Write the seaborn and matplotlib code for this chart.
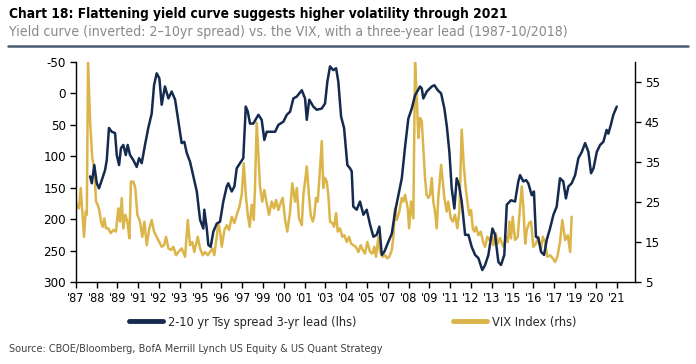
import numpy as np
import pandas as pd
import seaborn as sns
import matplotlib.pyplot as plt

# 2-10yr spread (bp), shifted forward 3 years, plotted on inverted lhs
spread_year = [1987.92, 1988.03, 1988.19, 1988.35, 1988.49, 1988.67, 1988.88, 1988.99,
               1989.13, 1989.31, 1989.52, 1989.63, 1989.78, 1989.90, 1990.05, 1990.21,
               1990.33, 1990.48, 1990.69, 1990.91, 1991.06, 1991.23, 1991.44, 1991.65,
               1991.87, 1992.02, 1992.19, 1992.36, 1992.51, 1992.72, 1992.94, 1993.15,
               1993.37, 1993.58, 1993.79, 1993.96, 1994.12, 1994.33, 1994.54, 1994.76,
               1994.97, 1995.18, 1995.24, 1995.40, 1995.50, 1995.65, 1995.82, 1996.04,
               1996.25, 1996.46, 1996.68, 1996.78, 1997.00, 1997.17, 1997.32, 1997.53,
               1997.74, 1997.90, 1998.03, 1998.17, 1998.38, 1998.71, 1998.92, 1999.09,
               1999.24, 1999.56, 1999.78, 1999.99, 2000.31, 2000.53, 2000.74, 2000.95,
               2001.17, 2001.49, 2001.70, 2001.81, 2001.97, 2002.23, 2002.45, 2002.77,
               2002.98, 2003.13, 2003.30, 2003.51, 2003.69, 2003.83, 2004.01, 2004.20,
               2004.41, 2004.58, 2004.69, 2004.79, 2005.01, 2005.22, 2005.44, 2005.65,
               2005.87, 2006.08, 2006.29, 2006.46, 2006.62, 2006.78, 2007.04, 2007.26,
               2007.47, 2007.68, 2007.90, 2008.11, 2008.32, 2008.54, 2008.75, 2009.07,
               2009.18, 2009.28, 2009.50, 2009.82, 2009.99, 2010.21, 2010.42, 2010.63,
               2010.79, 2010.95, 2011.10, 2011.27, 2011.42, 2011.57, 2011.74, 2011.85,
               2011.96, 2012.17, 2012.38, 2012.60, 2012.81, 2013.06, 2013.24, 2013.45,
               2013.71, 2013.88, 2014.09, 2014.26, 2014.47, 2014.63, 2014.90, 2015.16,
               2015.37, 2015.48, 2015.69, 2015.87, 2016.01, 2016.23, 2016.37, 2016.50,
               2016.65, 2016.83, 2017.02, 2017.19, 2017.40, 2017.62, 2017.83, 2018.04,
               2018.25, 2018.42, 2018.58, 2018.79, 2019.01, 2019.22, 2019.44, 2019.65,
               2019.86, 2020.03, 2020.19, 2020.40, 2020.61, 2020.82, 2021.03, 2021.14,
               2021.30, 2021.46, 2021.68]
spread_bp = [132, 143, 114, 143, 151, 138, 122, 106,
             55, 61, 63, 98, 114, 87, 82, 98,
             82, 98, 106, 117, 103, 111, 82, 55,
             32, -13, -32, -24, 18, -11, 8, -3,
             10, 45, 79, 77, 95, 109, 132, 156,
             201, 215, 185, 215, 241, 244, 220, 207,
             204, 172, 148, 143, 156, 148, 119, 111,
             103, 21, 29, 48, 48, 34, 42, 74,
             61, 61, 61, 50, 45, 34, 29, 8,
             5, -5, 8, 42, 10, 21, 26, 24,
             16, -19, -43, -37, -40, -19, 37, 55,
             114, 119, 124, 180, 185, 172, 193, 185,
             209, 228, 225, 212, 257, 252, 236, 223,
             188, 162, 135, 85, 40, 24, 3, -11,
             -8, 8, -3, -11, -13, -5, 0, 24,
             53, 93, 151, 183, 135, 146, 172, 199,
             225, 225, 244, 257, 262, 281, 273, 257,
             215, 225, 268, 273, 257, 177, 170, 172,
             140, 130, 140, 138, 143, 162, 156, 228,
             230, 252, 257, 233, 215, 193, 180, 135,
             140, 167, 148, 143, 130, 103, 93, 79,
             93, 127, 119, 93, 82, 77, 58, 64,
             50, 34, 21]

# VIX index level, rhs
vix_year = [1987.00, 1987.10, 1987.21, 1987.32, 1987.42, 1987.53, 1987.64, 1987.71,
            1987.79, 1987.92, 1988.06, 1988.19, 1988.30, 1988.41, 1988.51, 1988.62,
            1988.73, 1988.83, 1988.94, 1989.09, 1989.24, 1989.41, 1989.58, 1989.73,
            1989.84, 1989.95, 1990.05, 1990.18, 1990.31, 1990.44, 1990.54, 1990.69,
            1990.82, 1990.95, 1991.12, 1991.27, 1991.40, 1991.55, 1991.72, 1991.87,
            1992.02, 1992.19, 1992.36, 1992.51, 1992.66, 1992.79, 1992.94, 1993.11,
            1993.26, 1993.43, 1993.58, 1993.79, 1994.01, 1994.18, 1994.33, 1994.47,
            1994.60, 1994.82, 1994.97, 1995.14, 1995.29, 1995.46, 1995.61, 1995.76,
            1995.88, 1996.04, 1996.14, 1996.25, 1996.36, 1996.53, 1996.68, 1996.83,
            1997.00, 1997.17, 1997.32, 1997.49, 1997.64, 1997.77, 1997.90, 1998.03,
            1998.15, 1998.28, 1998.41, 1998.49, 1998.60, 1998.71, 1998.81, 1998.96,
            1999.09, 1999.24, 1999.39, 1999.56, 1999.71, 1999.84, 1999.99, 2000.16,
            2000.27, 2000.42, 2000.56, 2000.74, 2000.88, 2001.06, 2001.17, 2001.31,
            2001.49, 2001.59, 2001.70, 2001.81, 2001.96, 2002.06, 2002.19, 2002.28,
            2002.40, 2002.51, 2002.62, 2002.77, 2002.87, 2002.98, 2003.09, 2003.19,
            2003.30, 2003.45, 2003.56, 2003.69, 2003.79, 2003.94, 2004.09, 2004.22,
            2004.37, 2004.52, 2004.65, 2004.79, 2004.95, 2005.12, 2005.27, 2005.40,
            2005.54, 2005.69, 2005.87, 2006.01, 2006.14, 2006.25, 2006.40, 2006.51,
            2006.68, 2006.83, 2006.97, 2007.10, 2007.26, 2007.36, 2007.47, 2007.58,
            2007.74, 2007.90, 2008.00, 2008.11, 2008.28, 2008.37, 2008.49, 2008.64,
            2008.75, 2008.86, 2008.96, 2009.07, 2009.18, 2009.28, 2009.39, 2009.49,
            2009.60, 2009.71, 2009.82, 2009.92, 2010.03, 2010.14, 2010.24, 2010.42,
            2010.53, 2010.63, 2010.78, 2010.88, 2011.04, 2011.17, 2011.31, 2011.46,
            2011.59, 2011.74, 2011.87, 2012.00, 2012.13, 2012.23, 2012.34, 2012.45,
            2012.55, 2012.66, 2012.81, 2012.96, 2013.11, 2013.24, 2013.38, 2013.51,
            2013.67, 2013.77, 2013.92, 2014.05, 2014.20, 2014.41, 2014.63, 2014.69,
            2014.80, 2014.90, 2015.01, 2015.16, 2015.33, 2015.48, 2015.59, 2015.69,
            2015.81, 2015.91, 2016.06, 2016.19, 2016.33, 2016.50, 2016.65, 2016.81,
            2016.94, 2017.08, 2017.23, 2017.40, 2017.58, 2017.72, 2017.87, 2018.04,
            2018.19, 2018.37, 2018.54, 2018.69, 2018.79]
vix_level = [25.1, 23.8, 23.4, 28.5, 22.6, 16.3, 22.6, 21.8,
             60.3, 45.2, 36.0, 33.5, 25.1, 24.3, 23.0, 20.1,
             18.8, 20.9, 18.4, 18.4, 17.2, 18.0, 17.6, 23.4,
             20.1, 26.0, 18.4, 21.8, 20.1, 15.9, 30.1, 30.1,
             28.5, 21.8, 20.1, 16.3, 20.1, 14.2, 18.4, 20.5,
             17.6, 16.3, 15.0, 13.8, 14.2, 16.3, 13.4, 13.0,
             13.8, 11.7, 12.5, 13.4, 11.3, 20.5, 14.2, 15.0,
             12.5, 16.3, 13.4, 11.7, 12.5, 11.7, 12.5, 13.4,
             11.7, 16.3, 19.7, 17.6, 13.8, 18.0, 19.2, 18.0,
             21.3, 19.7, 21.8, 23.8, 26.8, 34.7, 26.8, 21.8,
             18.8, 24.3, 20.5, 28.5, 44.8, 36.8, 28.9, 25.1,
             28.0, 24.7, 21.8, 25.1, 23.4, 25.5, 23.0, 25.1,
             26.0, 20.5, 17.6, 22.6, 29.7, 25.1, 28.5, 20.9,
             19.2, 26.8, 30.1, 33.9, 26.0, 21.8, 20.1, 21.3,
             26.0, 25.1, 31.0, 40.2, 28.5, 31.0, 30.1, 26.8,
             20.1, 19.7, 18.8, 22.2, 17.6, 18.4, 16.3, 16.7,
             15.0, 16.3, 14.6, 14.2, 13.8, 12.5, 14.2, 13.0,
             12.1, 15.0, 12.5, 12.1, 13.8, 11.3, 16.3, 12.5,
             11.3, 11.7, 10.9, 11.3, 13.0, 16.3, 23.4, 20.5,
             22.6, 26.0, 25.1, 26.8, 23.4, 18.4, 25.1, 20.9,
             59.9, 51.1, 41.0, 46.0, 45.2, 38.5, 31.0, 26.8,
             26.0, 26.8, 31.0, 25.1, 22.6, 18.4, 26.0, 34.3,
             30.1, 26.0, 22.6, 25.1, 20.9, 20.1, 21.8, 18.4,
             22.6, 43.1, 34.3, 28.5, 24.3, 21.8, 23.0, 18.4,
             17.6, 18.8, 16.7, 17.6, 15.0, 13.8, 16.3, 15.5,
             16.7, 14.2, 17.2, 14.6, 16.0, 13.8, 16.3, 15.0,
             20.1, 15.9, 21.3, 15.5, 16.3, 23.8, 28.9, 23.8,
             14.6, 18.0, 19.7, 20.1, 13.8, 14.6, 16.3, 13.0,
             16.3, 15.0, 11.3, 11.7, 10.9, 10.0, 11.3, 15.0,
             20.5, 15.5, 16.7, 12.5, 21.3]

tick_labels = ["'87", "'88", "'89", "'91", "'92", "'93", "'95", "'96", "'97",
               "'99", "'00", "'01", "'03", "'04", "'05", "'07", "'08", "'09",
               "'11", "'12", "'13", "'15", "'16", "'17", "'19", "'20", "'21"]

NAVY = "#142a4e"
GOLD = "#dcb54a"

sns.set_style("ticks")
plt.rcParams["font.family"] = ["DejaVu Sans"]
plt.rcParams["font.stretch"] = "condensed"
plt.rcParams["axes.unicode_minus"] = False

spread = pd.DataFrame({"year": spread_year, "bp": spread_bp})
vix = pd.DataFrame({"year": vix_year, "level": vix_level})

fig = plt.figure(figsize=(6.96, 3.64), dpi=100)
ax = fig.add_axes([0.1088, 0.2253, 0.8036, 0.6044])
ax2 = ax.twinx()

sns.lineplot(data=vix, x="year", y="level", ax=ax2, color=GOLD, lw=1.8,
             label="VIX Index (rhs)", legend=False)
sns.lineplot(data=spread, x="year", y="bp", ax=ax, color=NAVY, lw=1.8,
             label="2-10 yr Tsy spread 3-yr lead (lhs)", legend=False)
# draw the spread above the VIX line
ax.set_zorder(ax2.get_zorder() + 1)
ax.patch.set_visible(False)

ax.set_xlim(1987.0, 2022.85)
ax.set_ylim(300, -50)
ax.set_yticks(np.arange(-50, 301, 50))
ax2.set_ylim(5, 60)
ax2.set_yticks(np.arange(5, 56, 10))

xt = 1987 + np.arange(len(tick_labels)) * 16 / 12
ax.set_xticks(xt)
ax.set_xticklabels(tick_labels)

for a in (ax, ax2):
    a.set_xlabel("")
    a.set_ylabel("")
    a.tick_params(labelsize=9.5, length=4, width=1, colors="black", pad=3)
    a.spines["top"].set_visible(False)
    for s in ("left", "right", "bottom"):
        a.spines[s].set_linewidth(1)
        a.spines[s].set_color("black")
ax.spines["right"].set_visible(False)
ax2.spines["left"].set_visible(False)
ax2.spines["bottom"].set_visible(False)
ax.tick_params(axis="x", labelsize=9)

h1, l1 = ax.get_legend_handles_labels()
h2, l2 = ax2.get_legend_handles_labels()
leg = fig.legend(h1 + h2, l1 + l2, loc="center", bbox_to_anchor=(0.507, 0.115),
                 ncol=2, frameon=False, fontsize=9.2, handlelength=2.65,
                 handletextpad=0.35, columnspacing=7.6)
for line in leg.get_lines():
    line.set_linewidth(3.5)

fig.text(0.013, 0.962, "Chart 18: Flattening yield curve suggests higher volatility through 2021",
         fontsize=9.8, fontweight="bold", color="black", va="center", ha="left")
fig.text(0.013, 0.912, "Yield curve (inverted: 2\u201310yr spread) vs. the VIX, with a three-year lead (1987-10/2018)",
         fontsize=10.1, color="#8a8a8a", va="center", ha="left")
fig.add_artist(plt.Line2D([0.012, 0.988], [0.874, 0.874], color="#4b5b72", lw=1.8))
fig.text(0.013, 0.04, "Source: CBOE/Bloomberg, BofA Merrill Lynch US Equity & US Quant Strategy",
         fontsize=7.8, color="#404040", va="center", ha="left")

plt.savefig("out.png", dpi=100)
